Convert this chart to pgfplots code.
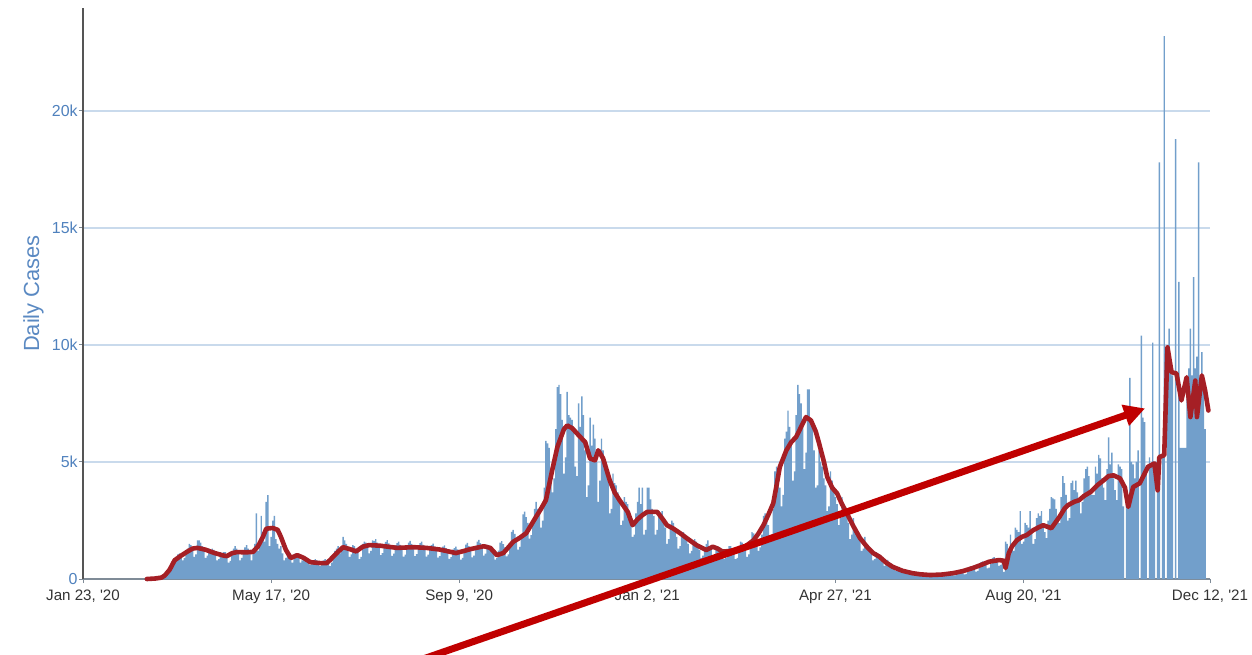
\documentclass[border=0pt]{standalone}
\usepackage{fontspec}
\setmainfont{Liberation Sans}
\usepackage{pgfplots}
\pgfplotsset{compat=1.18}
\usetikzlibrary{arrows.meta}
\definecolor{barblue}{HTML}{729FCB}
\definecolor{avgred}{HTML}{A51F25}
\definecolor{arrowred}{HTML}{C00000}
\definecolor{gridblue}{HTML}{C9DAEC}
\definecolor{ytickblue}{HTML}{4F81BD}
\definecolor{ylabblue}{HTML}{5A89C2}
\definecolor{xtickgray}{HTML}{333333}
\definecolor{xaxisgray}{HTML}{7F8B97}
\definecolor{yaxisgray}{HTML}{555555}
\begin{document}
\begin{tikzpicture}
\useasboundingbox (0,0) rectangle (626bp,-327.5bp);
\begin{axis}[
  at={(41.5bp,-289.5bp)}, anchor=south west, scale only axis,
  width=563.5bp, height=285.5bp,
  xmin=0, xmax=689, ymin=0, ymax=24400,
  clip=false,
  axis x line*=bottom, axis y line*=left,
  axis line style={-},
  x axis line style={draw=xaxisgray, line width=0.7bp},
  y axis line style={draw=yaxisgray, line width=0.7bp},
  tick align=outside, major tick length=2bp,
  tick style={draw=xaxisgray, line width=0.5bp},
  xtick={0,115,230,345,460,575,689},
  xticklabels={{Jan 23, \textquotesingle 20},{May 17, \textquotesingle 20},{Sep 9, \textquotesingle 20},{Jan 2, \textquotesingle 21},{Apr 27, \textquotesingle 21},{Aug 20, \textquotesingle 21},{Dec 12, \textquotesingle 21}},
  ytick={0,5000,10000,15000,20000},
  yticklabels={0,5k,10k,15k,20k},
  scaled y ticks=false,
  xticklabel style={anchor=north, inner sep=0pt, yshift=-3.5bp, text=xtickgray, font=\fontsize{7.6}{9}\selectfont},
  yticklabel style={anchor=east, inner sep=0pt, xshift=-0.5bp, text=ytickblue, font=\fontsize{8}{9}\selectfont},
  ymajorgrids, grid style={draw=gridblue, line width=0.6bp},
  ylabel={Daily Cases},
  every axis y label/.style={at={(axis description cs:-0.0345,0.5)}, anchor=south, rotate=90, inner sep=0pt, text=ylabblue, font=\fontsize{11}{13}\selectfont},
]
% daily cases
\addplot[ybar, bar width=0.86, fill=barblue, draw=none] coordinates {
(43,20)(44,30)(45,40)(46,50)(47,40)(48,60)(49,90)
(50,150)(51,250)(52,350)(53,450)(54,420)(55,520)(56,700)
(57,880)(58,1050)(59,1100)(60,1050)(61,800)(62,900)(63,1200)
(64,1300)(65,1500)(66,1450)(67,1300)(68,950)(69,1050)(70,1650)
(71,1650)(72,1550)(73,1400)(74,1250)(75,900)(76,1000)(77,1300)
(78,1250)(79,1300)(80,1250)(81,1100)(82,800)(83,850)(84,1150)
(85,1100)(86,1150)(87,1150)(88,1000)(89,700)(90,780)(91,1050)
(92,1300)(93,1400)(94,1300)(95,1150)(96,800)(97,900)(98,1200)
(99,1350)(100,1450)(101,1300)(102,1150)(103,800)
(104,1300)(105,1500)(106,2800)(107,1200)(108,1500)(109,2700)(110,2000)
(111,1600)(112,3300)(113,3580)(114,1400)(115,1800)(116,2500)(117,2700)
(118,1700)(119,1500)(120,1300)
(121,1400)(122,1100)(123,800)(124,900)(125,1200)(126,1000)(127,850)(128,700)(129,950)(130,1100)
(131,1050)(132,950)(133,700)(134,800)(135,900)(136,850)(137,750)(138,750)(139,600)(140,650)
(141,800)(142,850)(143,800)(144,720)(145,550)(146,600)(147,800)(148,850)(149,780)(150,700)
(151,550)(152,700)(153,1000)(154,1200)(155,1300)(156,1400)(157,1100)(158,1300)(159,1800)(160,1650)
(161,1500)(162,1300)(163,950)(164,1050)(165,1450)(166,1400)(167,1300)(168,1200)(169,850)(170,950)
(171,1500)(172,1600)(173,1550)(174,1500)(175,1100)(176,1200)(177,1650)
(178,1630)(179,1700)(180,1560)(181,1420)(182,1020)(183,1110)(184,1490)
(185,1590)(186,1660)(187,1520)(188,1380)(189,990)(190,1080)(191,1450)
(192,1530)(193,1600)(194,1460)(195,1330)(196,960)(197,1040)(198,1400)
(199,1560)(200,1630)(201,1500)(202,1360)(203,980)(204,1060)(205,1430)
(206,1530)(207,1600)(208,1460)(209,1330)(210,960)(211,1040)(212,1400)
(213,1450)(214,1510)(215,1390)(216,1260)(217,910)(218,980)(219,1320)
(220,1380)(221,1440)(222,1320)(223,1200)(224,860)(225,940)(226,1260)
(227,1320)(228,1380)(229,1270)(230,1150)(231,830)(232,900)(233,1210)
(234,1470)(235,1540)(236,1410)(237,1280)(238,920)(239,1000)(240,1340)
(241,1600)(242,1670)(243,1530)(244,1390)(245,1000)(246,1080)(247,1460)
(248,1320)(249,1380)(250,1270)(251,1150)(252,830)(253,900)(254,1210)
(255,1550)(256,1620)(257,1490)(258,1350)(259,970)(260,1050)(261,1420)
(262,2010)(263,2100)(264,1930)(265,1750)(266,1260)(267,1370)(268,1840)
(269,2760)(270,2880)(271,2640)(272,2400)(273,1730)(274,1870)(275,2520)
(276,3000)(277,3300)(278,3000)(279,2800)(280,2200)(281,2500)(282,3900)
(283,5900)(284,5800)(285,5600)(286,4500)(287,3700)(288,4300)(289,6400)
(290,8200)(291,8300)(292,7900)(293,6800)(294,4500)(295,5200)(296,8000)
(297,7000)(298,6900)(299,6800)(300,6500)(301,4800)(302,4400)(303,7500)
(304,6500)(305,7800)(306,7000)(307,5500)(308,3500)(309,4000)(310,6900)
(311,5700)(312,6600)(313,6000)(314,5000)(315,3300)(316,4200)(317,6000)
(318,5500)(319,4800)(320,4600)(321,4200)(322,2800)(323,3000)(324,4500)
(325,4100)(326,4000)(327,3700)(328,3300)(329,2300)(330,2500)(331,3500)
(332,3300)(333,3200)(334,2900)(335,2600)(336,1800)(337,1900)(338,2800)
(339,3300)(340,3900)(341,3200)(342,3900)(343,1900)(344,2100)(345,3900)
(346,3900)(347,3400)(348,3000)(349,2700)(350,1900)(351,2100)(352,2900)
(353,2800)(354,2900)(355,2500)(356,2200)(357,1500)(358,1700)(359,2300)
(360,2500)(361,2400)(362,2100)(363,1800)(364,1300)(365,1400)(366,1900)
(367,2000)(368,1900)(369,1700)(370,1500)(371,1100)(372,1200)(373,1600)
(374,1700)(375,1600)(376,1400)(377,1250)(378,900)(379,1000)(380,1300)
(381,1500)(382,1650)(383,1400)(384,1300)(385,950)(386,1000)(387,1350)
(388,1400)(389,1350)(390,1250)(391,1150)(392,850)(393,900)(394,1250)
(395,1400)(396,1400)(397,1300)(398,1200)(399,850)(400,900)(401,1250)
(402,1600)(403,1550)(404,1400)(405,1300)(406,950)(407,1050)(408,1500)
(409,2000)(410,1950)(411,1800)(412,1650)(413,1200)(414,1350)(415,1900)
(416,2700)(417,2800)(418,2600)(419,2300)(420,1700)(421,1900)(422,3000)
(423,4600)(424,4800)(425,4500)(426,3900)(427,3100)(428,3600)(429,6000)
(430,6300)(431,7200)(432,6500)(433,5700)(434,4200)(435,4600)(436,7000)
(437,8300)(438,7900)(439,7500)(440,6800)(441,4700)(442,5400)(443,8100)
(444,8100)(445,6800)(446,6500)(447,5500)(448,3900)(449,4000)(450,5500)
(451,5000)(452,4800)(453,4300)(454,4000)(455,2900)(456,3100)(457,4600)
(458,4200)(459,3900)(460,3500)(461,3200)(462,2300)(463,2600)(464,3500)
(465,3100)(466,3000)(467,2700)(468,2400)(469,1700)(470,1900)(471,2600)
(472,2200)(473,2100)(474,1900)(475,1700)(476,1200)(477,1300)(478,1800)
(479,1500)(480,1400)(481,1250)(482,1100)(483,800)(484,850)(485,1150)
(486,1050)(487,1000)(488,900)(489,780)(490,560)(491,600)(492,820)
(493,700)(494,650)(495,580)(496,500)(497,360)(498,390)(499,520)
(500,450)(501,420)(502,380)(503,330)(504,240)(505,260)(506,340)
(507,300)(508,300)(509,270)(510,240)(511,170)(512,190)(513,250)
(514,220)(515,220)(516,200)(517,180)(518,130)(519,140)(520,190)
(521,200)(522,210)(523,190)(524,170)(525,120)(526,130)(527,180)
(528,240)(529,250)(530,230)(531,210)(532,150)(533,160)(534,220)
(535,330)(536,340)(537,310)(538,280)(539,200)(540,220)(541,300)
(542,520)(543,540)(544,500)(545,450)(546,320)(547,350)(548,480)
(549,720)(550,750)(551,690)(552,620)(553,450)(554,490)(555,660)
(556,900)(557,930)(558,850)(559,780)(560,560)(561,600)(562,820)
(563,300)(564,1600)(565,1500)(566,1300)(567,1900)(568,1500)(569,1200)
(570,2200)(571,2100)(572,2000)(573,2900)(574,1500)(575,1600)(576,2400)
(577,2300)(578,2200)(579,2900)(580,2000)(581,1500)(582,1700)(583,2600)
(584,2800)(585,2700)(586,2900)(587,2300)(588,2000)(589,1750)(590,2500)
(591,3000)(592,3500)(593,3450)(594,3400)(595,3000)(596,2600)(597,2390)
(598,3500)(599,4400)(600,4100)(601,3600)(602,2500)(603,2600)(604,4100)
(605,4200)(606,3800)(607,4200)(608,3700)(609,3300)(610,2800)(611,3300)
(612,4300)(613,4700)(614,4800)(615,4400)(616,3800)(617,3600)(618,3580)
(619,4800)(620,4500)(621,5300)(622,5150)(623,4300)(624,3900)(625,3370)
(626,4700)(627,6050)(628,4900)(629,5400)(630,4300)(631,3800)(632,3370)
(633,4900)(634,4800)(635,4700)(636,3100)(637,0)(638,3200)(639,3080)
(640,8600)(641,5000)(642,4900)(643,4300)(644,5000)(645,5500)(646,0)
(647,10400)(648,6900)(649,6700)(650,4700)(651,0)(652,5200)(653,4800)
(654,10100)(655,5000)(656,0)(657,5100)(658,17800)(659,0)(660,5200)
(661,23200)(662,0)(663,9600)(664,10700)(665,9000)(666,8700)(667,0)
(668,18800)(669,0)(670,12700)(671,5600)(672,5600)(673,5600)(674,5600)
(675,8200)(676,9000)(677,10700)(678,8700)(679,12900)(680,9000)(681,9500)
(682,17800)(683,8500)(684,9700)(685,8100)(686,6400)
};
% 7-day average
\addplot[avgred, line width=2.3bp, line join=round, line cap=round] coordinates {
(39,0)(44,20)(48,60)(50,150)(53,400)(56,800)(60,1000)(64,1180)(67,1300)(70,1330)
(75,1250)(80,1120)(86,1000)(88,980)(91,1100)(94,1150)(100,1140)(104,1160)(107,1400)(110,1800)
(112,2150)(116,2180)(119,2100)(121,1800)(124,1250)(127,900)(131,1020)(135,900)(139,720)(145,680)
(149,680)(151,810)(155,1100)(159,1360)(163,1280)(167,1180)(171,1380)(175,1450)(182,1420)(192,1330)
(202,1360)(210,1330)(218,1260)(228,1110)(233,1200)(237,1280)(245,1400)(249,1330)(253,1020)(257,1110)
(263,1590)(267,1760)(271,1960)(277,2660)(280,3000)(283,3370)(287,4700)(290,5640)(294,6400)(296,6560)
(299,6450)(302,6220)(307,5850)(310,5150)(313,5070)(315,5500)(318,5150)(322,4220)(325,3700)(328,3370)
(333,2870)(336,2300)(339,2550)(342,2730)(345,2870)(351,2870)(354,2600)(357,2300)(361,2150)(365,1960)
(370,1700)(375,1450)(381,1240)(385,1380)(388,1300)(391,1170)(396,1200)(402,1250)(406,1450)(410,1660)
(413,1950)(416,2300)(419,2750)(422,3240)(424,4000)(426,4790)(430,5500)(433,5850)(436,6070)(439,6500)
(442,6920)(445,6780)(448,6300)(450,5800)(453,5000)(455,4360)(458,3900)(461,3660)(464,3200)(467,2810)
(471,2250)(475,1750)(479,1400)(483,1110)(487,950)(491,700)(495,520)(501,350)(507,250)(512,200)
(518,170)(525,190)(532,250)(538,340)(544,470)(549,600)(554,740)(560,810)(563,780)(564,470)
(566,1110)(568,1400)(571,1660)(574,1800)(577,1880)(581,2090)(584,2200)(587,2300)(592,2170)(597,2660)
(600,3000)(602,3150)(606,3300)(609,3370)(612,3550)(616,3720)(620,4000)(624,4220)(627,4400)(630,4430)
(634,4300)(637,3900)(639,3080)(642,3930)(646,4090)(649,4500)(651,4790)(655,4940)(657,3790)(658,5210)
(661,5290)(663,9900)(665.5,8840)(668.5,8780)(671.5,7630)(674.7,8620)(677,6920)(680,8480)(681,6920)(684,8700)
(686,8060)(688,7200)
};
% annotation arrow
\draw[arrowred, line width=3.5bp, -{Triangle[length=10.5bp,width=10.5bp]}]
  (axis cs:197.7,-3666) -- (axis cs:649.3,7289);
\end{axis}
\end{tikzpicture}
\end{document}
